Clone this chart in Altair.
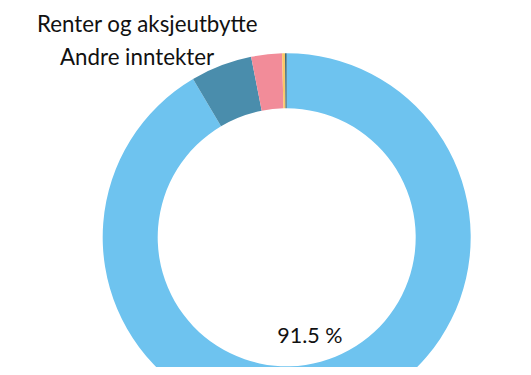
import altair as alt
import pandas as pd

categories = ["Skatter og avgifter", "Overføringer", "Salgsinntekter", "Renter og aksjeutbytte", "Andre inntekter"]
shares = [91.5, 5.4, 2.7, 0.25, 0.15]
colors = ["#6ec3ef", "#4a8dac", "#f28c99", "#fcc766", "#3f6b7a"]
label_cats = ["Renter og aksjeutbytte", "Andre inntekter"]

df = pd.DataFrame({"kategori": categories, "andel": shares, "rekkefolge": list(range(len(categories)))})

FONT = "Lato"
CX, CY = 278.7, 229.3

base = alt.Chart(df).encode(
    theta=alt.Theta("andel:Q", stack=True),
    order=alt.Order("rekkefolge:Q"),
)

arcs = base.mark_arc(outerRadius=184, innerRadius=129, stroke=None).encode(
    color=alt.Color("kategori:N", scale=alt.Scale(domain=categories, range=colors), legend=None),
    x=alt.value(CX),
    y=alt.value(CY),
)

pct = base.transform_calculate(
    lbl="datum.andel > 50 ? format(datum.andel, '.1f') + ' %' : ''"
).mark_text(radius=103, dx=-4, font=FONT, fontSize=21.5, color="#111111", baseline="middle").encode(
    text="lbl:N",
    x=alt.value(CX),
    y=alt.value(CY),
)

lab1 = alt.Chart(pd.DataFrame({"t": [label_cats[0]]})).mark_text(
    align="left", baseline="alphabetic", font=FONT, fontSize=22.3, color="#111111"
).encode(text="t:N", x=alt.value(29), y=alt.value(24))

lab2 = alt.Chart(pd.DataFrame({"t": [label_cats[1]]})).mark_text(
    align="left", baseline="alphabetic", font=FONT, fontSize=22.3, color="#111111"
).encode(text="t:N", x=alt.value(52), y=alt.value(56.5))

chart = alt.layer(arcs, pct, lab1, lab2).properties(
    width=515, height=359, padding=0, autosize=alt.AutoSizeParams(type="none")
).configure_view(stroke=None)

chart.save("out.html", embed_options={"renderer": "svg", "actions": False})
